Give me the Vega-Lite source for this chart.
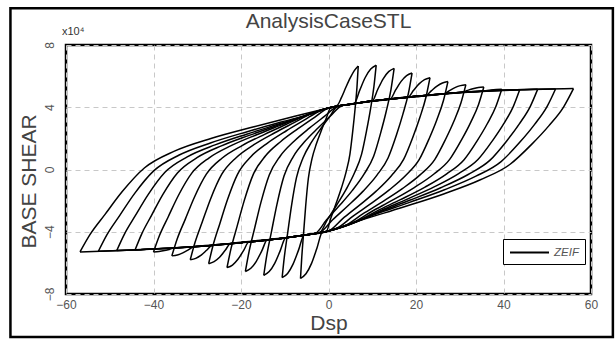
{
"$schema": "https://vega.github.io/schema/vega-lite/v6.json",
"width": 525, "height": 249,
"autosize": "none",
"padding": {"left": 66, "top": 45, "right": 25, "bottom": 46},
"background": "white",
"config": {"view": {"stroke": "#000", "strokeWidth": 2.5}, "font": "Liberation Sans"},
"layer": [
{"data": {"values": [
{"s":"i0","x":0,"y":3.95},{"s":"i0","x":2,"y":4.12},{"s":"i0","x":3,"y":4.65},{"s":"i0","x":4,"y":5.3},{"s":"i0","x":5,"y":5.9},{"s":"i0","x":5.9,"y":6.35},{"s":"i0","x":6.8,"y":6.65},
{"s":"u1","x":6.8,"y":6.65},{"s":"u1","x":6.51,"y":5.29},{"s":"u1","x":6.07,"y":3.89},{"s":"u1","x":5.56,"y":2.51},{"s":"u1","x":4.9,"y":0.99},{"s":"u1","x":4.03,"y":-0.15},{"s":"u1","x":2.93,"y":-1.21},{"s":"u1","x":1.69,"y":-2.22},{"s":"u1","x":0.52,"y":-3.13},{"s":"u1","x":-0.5,"y":-3.975},{"s":"u1","x":-1.4,"y":-4.02},{"s":"u1","x":-2.65,"y":-5.06},{"s":"u1","x":-3.9,"y":-6.05},{"s":"u1","x":-5.15,"y":-6.7},{"s":"u1","x":-6.4,"y":-7.0},
{"s":"r1","x":-6.4,"y":-7.0},{"s":"r1","x":-6.12,"y":-5.68},{"s":"r1","x":-5.71,"y":-4.15},{"s":"r1","x":-5.23,"y":-2.39},{"s":"r1","x":-4.61,"y":-0.58},{"s":"r1","x":-3.78,"y":0.68},{"s":"r1","x":-2.74,"y":1.67},{"s":"r1","x":-1.57,"y":2.55},{"s":"r1","x":-0.47,"y":3.32},{"s":"r1","x":0.5,"y":3.975},{"s":"r1","x":3,"y":4.1},{"s":"r1","x":5.9,"y":4.24},{"s":"r1","x":7.15,"y":5.1},{"s":"r1","x":8.4,"y":5.91},{"s":"r1","x":9.65,"y":6.45},{"s":"r1","x":10.9,"y":6.7},
{"s":"u2","x":10.9,"y":6.7},{"s":"u2","x":10.38,"y":5.32},{"s":"u2","x":9.61,"y":3.9},{"s":"u2","x":8.71,"y":2.51},{"s":"u2","x":7.55,"y":0.97},{"s":"u2","x":6.0,"y":-0.18},{"s":"u2","x":4.06,"y":-1.26},{"s":"u2","x":1.87,"y":-2.28},{"s":"u2","x":-0.19,"y":-3.19},{"s":"u2","x":-2.0,"y":-4.05},{"s":"u2","x":-4,"y":-4.15},{"s":"u2","x":-5.6,"y":-4.22},{"s":"u2","x":-6.85,"y":-5.18},{"s":"u2","x":-8.1,"y":-6.08},{"s":"u2","x":-9.35,"y":-6.68},{"s":"u2","x":-10.6,"y":-6.95},
{"s":"r2","x":-10.6,"y":-6.95},{"s":"r2","x":-10.1,"y":-5.63},{"s":"r2","x":-9.34,"y":-4.09},{"s":"r2","x":-8.46,"y":-2.33},{"s":"r2","x":-7.32,"y":-0.52},{"s":"r2","x":-5.81,"y":0.75},{"s":"r2","x":-3.92,"y":1.74},{"s":"r2","x":-1.78,"y":2.62},{"s":"r2","x":0.24,"y":3.39},{"s":"r2","x":2.0,"y":4.05},{"s":"r2","x":5,"y":4.2},{"s":"r2","x":7.5,"y":4.3},{"s":"r2","x":10,"y":4.4},{"s":"r2","x":11.25,"y":5.14},{"s":"r2","x":12.5,"y":5.83},{"s":"r2","x":13.75,"y":6.29},{"s":"r2","x":15,"y":6.5},
{"s":"u3","x":15,"y":6.5},{"s":"u3","x":14.28,"y":5.14},{"s":"u3","x":13.2,"y":3.74},{"s":"u3","x":11.94,"y":2.37},{"s":"u3","x":10.32,"y":0.85},{"s":"u3","x":8.16,"y":-0.28},{"s":"u3","x":5.46,"y":-1.34},{"s":"u3","x":2.4,"y":-2.35},{"s":"u3","x":-0.48,"y":-3.25},{"s":"u3","x":-3,"y":-4.1},{"s":"u3","x":-5,"y":-4.2},{"s":"u3","x":-7.5,"y":-4.3},{"s":"u3","x":-9.8,"y":-4.39},{"s":"u3","x":-11.05,"y":-5.23},{"s":"u3","x":-12.3,"y":-6.03},{"s":"u3","x":-13.55,"y":-6.56},{"s":"u3","x":-14.8,"y":-6.8},
{"s":"r3","x":-14.8,"y":-6.8},{"s":"r3","x":-14.09,"y":-5.49},{"s":"r3","x":-13.02,"y":-3.97},{"s":"r3","x":-11.77,"y":-2.22},{"s":"r3","x":-10.17,"y":-0.42},{"s":"r3","x":-8.04,"y":0.83},{"s":"r3","x":-5.37,"y":1.81},{"s":"r3","x":-2.34,"y":2.68},{"s":"r3","x":0.51,"y":3.45},{"s":"r3","x":3.0,"y":4.1},{"s":"r3","x":5,"y":4.2},{"s":"r3","x":10,"y":4.4},{"s":"r3","x":14.1,"y":4.52},{"s":"r3","x":15.35,"y":5.11},{"s":"r3","x":16.6,"y":5.66},{"s":"r3","x":17.85,"y":6.03},{"s":"r3","x":19.1,"y":6.2},
{"s":"u4","x":19.1,"y":6.2},{"s":"u4","x":18.26,"y":4.89},{"s":"u4","x":16.99,"y":3.54},{"s":"u4","x":15.51,"y":2.2},{"s":"u4","x":13.61,"y":0.74},{"s":"u4","x":11.08,"y":-0.36},{"s":"u4","x":7.92,"y":-1.39},{"s":"u4","x":4.33,"y":-2.36},{"s":"u4","x":0.95,"y":-3.23},{"s":"u4","x":-2,"y":-4.05},{"s":"u4","x":-5,"y":-4.2},{"s":"u4","x":-10,"y":-4.4},{"s":"u4","x":-14,"y":-4.52},{"s":"u4","x":-15.25,"y":-5.23},{"s":"u4","x":-16.5,"y":-5.9},{"s":"u4","x":-17.75,"y":-6.35},{"s":"u4","x":-19,"y":-6.55},
{"s":"r4","x":-19,"y":-6.55},{"s":"r4","x":-18.16,"y":-5.28},{"s":"r4","x":-16.9,"y":-3.79},{"s":"r4","x":-15.43,"y":-2.1},{"s":"r4","x":-13.54,"y":-0.35},{"s":"r4","x":-11.02,"y":0.87},{"s":"r4","x":-7.87,"y":1.82},{"s":"r4","x":-4.3,"y":2.67},{"s":"r4","x":-0.94,"y":3.41},{"s":"r4","x":2.0,"y":4.05},{"s":"r4","x":5,"y":4.2},{"s":"r4","x":10,"y":4.4},{"s":"r4","x":14,"y":4.52},{"s":"r4","x":18.2,"y":4.65},{"s":"r4","x":19.45,"y":5.09},{"s":"r4","x":20.7,"y":5.5},{"s":"r4","x":21.95,"y":5.77},{"s":"r4","x":23.2,"y":5.9},
{"s":"u5","x":23.2,"y":5.9},{"s":"u5","x":22.27,"y":4.64},{"s":"u5","x":20.88,"y":3.34},{"s":"u5","x":19.26,"y":2.06},{"s":"u5","x":17.17,"y":0.65},{"s":"u5","x":14.38,"y":-0.4},{"s":"u5","x":10.9,"y":-1.39},{"s":"u5","x":6.96,"y":-2.32},{"s":"u5","x":3.25,"y":-3.16},{"s":"u5","x":0,"y":-3.95},{"s":"u5","x":-5,"y":-4.2},{"s":"u5","x":-10,"y":-4.4},{"s":"u5","x":-14,"y":-4.52},{"s":"u5","x":-18.2,"y":-4.65},{"s":"u5","x":-19.45,"y":-5.23},{"s":"u5","x":-20.7,"y":-5.77},{"s":"u5","x":-21.95,"y":-6.14},{"s":"u5","x":-23.2,"y":-6.3},
{"s":"r5","x":-23.2,"y":-6.3},{"s":"r5","x":-22.27,"y":-5.07},{"s":"r5","x":-20.88,"y":-3.64},{"s":"r5","x":-19.26,"y":-2.0},{"s":"r5","x":-17.17,"y":-0.3},{"s":"r5","x":-14.38,"y":0.88},{"s":"r5","x":-10.9,"y":1.8},{"s":"r5","x":-6.96,"y":2.62},{"s":"r5","x":-3.25,"y":3.34},{"s":"r5","x":0,"y":3.95},{"s":"r5","x":5,"y":4.2},{"s":"r5","x":10,"y":4.4},{"s":"r5","x":16,"y":4.58},{"s":"r5","x":22.3,"y":4.76},{"s":"r5","x":23.55,"y":5.07},{"s":"r5","x":24.8,"y":5.36},{"s":"r5","x":26.05,"y":5.56},{"s":"r5","x":27.3,"y":5.65},
{"s":"u6","x":27.3,"y":5.65},{"s":"u6","x":26.29,"y":4.45},{"s":"u6","x":24.77,"y":3.2},{"s":"u6","x":23.0,"y":1.98},{"s":"u6","x":20.72,"y":0.63},{"s":"u6","x":17.69,"y":-0.37},{"s":"u6","x":13.89,"y":-1.31},{"s":"u6","x":9.59,"y":-2.21},{"s":"u6","x":5.54,"y":-3.01},{"s":"u6","x":2.0,"y":-3.76},{"s":"u6","x":0,"y":-3.95},{"s":"u6","x":-5,"y":-4.2},{"s":"u6","x":-10,"y":-4.4},{"s":"u6","x":-16,"y":-4.58},{"s":"u6","x":-22.4,"y":-4.76},{"s":"u6","x":-23.65,"y":-5.21},{"s":"u6","x":-24.9,"y":-5.64},{"s":"u6","x":-26.15,"y":-5.92},{"s":"u6","x":-27.4,"y":-6.05},
{"s":"r6","x":-27.4,"y":-6.05},{"s":"r6","x":-26.38,"y":-4.87},{"s":"r6","x":-24.86,"y":-3.5},{"s":"r6","x":-23.08,"y":-1.93},{"s":"r6","x":-20.8,"y":-0.31},{"s":"r6","x":-17.75,"y":0.82},{"s":"r6","x":-13.94,"y":1.7},{"s":"r6","x":-9.62,"y":2.49},{"s":"r6","x":-5.56,"y":3.17},{"s":"r6","x":-2.0,"y":3.76},{"s":"r6","x":0,"y":3.95},{"s":"r6","x":5,"y":4.2},{"s":"r6","x":10,"y":4.4},{"s":"r6","x":20,"y":4.7},{"s":"r6","x":26.4,"y":4.86},{"s":"r6","x":27.65,"y":5.07},{"s":"r6","x":28.9,"y":5.26},{"s":"r6","x":30.15,"y":5.39},{"s":"r6","x":31.4,"y":5.45},
{"s":"u7","x":31.4,"y":5.45},{"s":"u7","x":30.3,"y":4.3},{"s":"u7","x":28.66,"y":3.1},{"s":"u7","x":26.74,"y":1.93},{"s":"u7","x":24.28,"y":0.64},{"s":"u7","x":20.99,"y":-0.33},{"s":"u7","x":16.88,"y":-1.23},{"s":"u7","x":12.22,"y":-2.09},{"s":"u7","x":7.84,"y":-2.85},{"s":"u7","x":4.0,"y":-3.575},{"s":"u7","x":0,"y":-3.95},{"s":"u7","x":-5,"y":-4.2},{"s":"u7","x":-10,"y":-4.4},{"s":"u7","x":-20,"y":-4.7},{"s":"u7","x":-26.6,"y":-4.87},{"s":"u7","x":-27.85,"y":-5.19},{"s":"u7","x":-29.1,"y":-5.5},{"s":"u7","x":-30.35,"y":-5.71},{"s":"u7","x":-31.6,"y":-5.8},
{"s":"r7","x":-31.6,"y":-5.8},{"s":"r7","x":-30.5,"y":-4.68},{"s":"r7","x":-28.84,"y":-3.36},{"s":"r7","x":-26.91,"y":-1.86},{"s":"r7","x":-24.42,"y":-0.32},{"s":"r7","x":-21.11,"y":0.76},{"s":"r7","x":-16.97,"y":1.61},{"s":"r7","x":-12.28,"y":2.36},{"s":"r7","x":-7.86,"y":3.01},{"s":"r7","x":-4.0,"y":3.575},{"s":"r7","x":0,"y":3.95},{"s":"r7","x":5,"y":4.2},{"s":"r7","x":10,"y":4.4},{"s":"r7","x":20,"y":4.7},{"s":"r7","x":25,"y":4.825},{"s":"r7","x":30.5,"y":4.96},{"s":"r7","x":31.75,"y":5.08},{"s":"r7","x":33,"y":5.19},{"s":"r7","x":34.25,"y":5.27},{"s":"r7","x":35.5,"y":5.3},
{"s":"u8","x":35.5,"y":5.3},{"s":"u8","x":34.3,"y":4.18},{"s":"u8","x":32.5,"y":3.03},{"s":"u8","x":30.4,"y":1.9},{"s":"u8","x":27.7,"y":0.65},{"s":"u8","x":24.1,"y":-0.29},{"s":"u8","x":19.6,"y":-1.16},{"s":"u8","x":14.5,"y":-1.99},{"s":"u8","x":9.7,"y":-2.73},{"s":"u8","x":5.5,"y":-3.43},{"s":"u8","x":0,"y":-3.95},{"s":"u8","x":-5,"y":-4.2},{"s":"u8","x":-10,"y":-4.4},{"s":"u8","x":-20,"y":-4.7},{"s":"u8","x":-25,"y":-4.825},{"s":"u8","x":-30.8,"y":-4.96},{"s":"u8","x":-32.05,"y":-5.17},{"s":"u8","x":-33.3,"y":-5.36},{"s":"u8","x":-34.55,"y":-5.49},{"s":"u8","x":-35.8,"y":-5.55},
{"s":"r8","x":-35.8,"y":-5.55},{"s":"r8","x":-34.59,"y":-4.47},{"s":"r8","x":-32.77,"y":-3.22},{"s":"r8","x":-30.65,"y":-1.78},{"s":"r8","x":-27.92,"y":-0.3},{"s":"r8","x":-24.29,"y":0.74},{"s":"r8","x":-19.74,"y":1.54},{"s":"r8","x":-14.59,"y":2.26},{"s":"r8","x":-9.74,"y":2.89},{"s":"r8","x":-5.5,"y":3.43},{"s":"r8","x":0,"y":3.95},{"s":"r8","x":5,"y":4.2},{"s":"r8","x":10,"y":4.4},{"s":"r8","x":20,"y":4.7},{"s":"r8","x":30,"y":4.95},{"s":"r8","x":34.6,"y":5.01},{"s":"r8","x":35.85,"y":5.06},{"s":"r8","x":37.1,"y":5.11},{"s":"r8","x":38.35,"y":5.14},{"s":"r8","x":39.6,"y":5.15},
{"s":"u9","x":39.6,"y":5.15},{"s":"u9","x":38.28,"y":4.06},{"s":"u9","x":36.29,"y":2.94},{"s":"u9","x":33.97,"y":1.84},{"s":"u9","x":30.99,"y":0.63},{"s":"u9","x":27.02,"y":-0.28},{"s":"u9","x":22.06,"y":-1.13},{"s":"u9","x":16.43,"y":-1.94},{"s":"u9","x":11.13,"y":-2.66},{"s":"u9","x":6.5,"y":-3.34},{"s":"u9","x":0,"y":-3.95},{"s":"u9","x":-5,"y":-4.2},{"s":"u9","x":-10,"y":-4.4},{"s":"u9","x":-20,"y":-4.7},{"s":"u9","x":-30,"y":-4.95},{"s":"u9","x":-35,"y":-5.03},{"s":"u9","x":-36.25,"y":-5.12},{"s":"u9","x":-37.5,"y":-5.21},{"s":"u9","x":-38.75,"y":-5.27},{"s":"u9","x":-40,"y":-5.3},
{"s":"r9","x":-40,"y":-5.3},{"s":"r9","x":-38.66,"y":-4.26},{"s":"r9","x":-36.65,"y":-3.05},{"s":"r9","x":-34.31,"y":-1.67},{"s":"r9","x":-31.29,"y":-0.25},{"s":"r9","x":-27.27,"y":0.75},{"s":"r9","x":-22.25,"y":1.53},{"s":"r9","x":-16.55,"y":2.22},{"s":"r9","x":-11.19,"y":2.82},{"s":"r9","x":-6.5,"y":3.34},{"s":"r9","x":0,"y":3.95},{"s":"r9","x":5,"y":4.2},{"s":"r9","x":10,"y":4.4},{"s":"r9","x":20,"y":4.7},{"s":"r9","x":30,"y":4.95},{"s":"r9","x":37,"y":5.04},{"s":"r9","x":43.7,"y":5.12},
{"s":"u10","x":43.7,"y":5.12},{"s":"u10","x":42.23,"y":4.04},{"s":"u10","x":40.03,"y":2.93},{"s":"u10","x":37.46,"y":1.84},{"s":"u10","x":34.16,"y":0.64},{"s":"u10","x":29.75,"y":-0.26},{"s":"u10","x":24.25,"y":-1.1},{"s":"u10","x":18.01,"y":-1.9},{"s":"u10","x":12.14,"y":-2.62},{"s":"u10","x":7.0,"y":-3.29},{"s":"u10","x":0,"y":-3.95},{"s":"u10","x":-5,"y":-4.2},{"s":"u10","x":-10,"y":-4.4},{"s":"u10","x":-20,"y":-4.7},{"s":"u10","x":-30,"y":-4.95},{"s":"u10","x":-37,"y":-5.06},{"s":"u10","x":-44.2,"y":-5.16},
{"s":"r10","x":-44.2,"y":-5.16},{"s":"r10","x":-42.71,"y":-4.15},{"s":"r10","x":-40.48,"y":-2.96},{"s":"r10","x":-37.88,"y":-1.61},{"s":"r10","x":-34.53,"y":-0.22},{"s":"r10","x":-30.06,"y":0.76},{"s":"r10","x":-24.48,"y":1.52},{"s":"r10","x":-18.16,"y":2.19},{"s":"r10","x":-12.21,"y":2.78},{"s":"r10","x":-7.0,"y":3.29},{"s":"r10","x":0,"y":3.95},{"s":"r10","x":5,"y":4.2},{"s":"r10","x":10,"y":4.4},{"s":"r10","x":20,"y":4.7},{"s":"r10","x":30,"y":4.95},{"s":"r10","x":43,"y":5.12},{"s":"r10","x":47.8,"y":5.15},
{"s":"u11","x":47.8,"y":5.15},{"s":"u11","x":46.13,"y":4.06},{"s":"u11","x":43.62,"y":2.93},{"s":"u11","x":40.69,"y":1.82},{"s":"u11","x":36.93,"y":0.6},{"s":"u11","x":31.92,"y":-0.32},{"s":"u11","x":25.65,"y":-1.17},{"s":"u11","x":18.54,"y":-1.98},{"s":"u11","x":11.85,"y":-2.71},{"s":"u11","x":6.0,"y":-3.39},{"s":"u11","x":0,"y":-3.95},{"s":"u11","x":-5,"y":-4.2},{"s":"u11","x":-10,"y":-4.4},{"s":"u11","x":-20,"y":-4.7},{"s":"u11","x":-30,"y":-4.95},{"s":"u11","x":-43,"y":-5.15},{"s":"u11","x":-48.4,"y":-5.21},
{"s":"r11","x":-48.4,"y":-5.21},{"s":"r11","x":-46.7,"y":-4.18},{"s":"r11","x":-44.16,"y":-2.97},{"s":"r11","x":-41.19,"y":-1.6},{"s":"r11","x":-37.38,"y":-0.18},{"s":"r11","x":-32.29,"y":0.81},{"s":"r11","x":-25.93,"y":1.58},{"s":"r11","x":-18.72,"y":2.27},{"s":"r11","x":-11.94,"y":2.87},{"s":"r11","x":-6.0,"y":3.39},{"s":"r11","x":0,"y":3.95},{"s":"r11","x":5,"y":4.2},{"s":"r11","x":10,"y":4.4},{"s":"r11","x":20,"y":4.7},{"s":"r11","x":30,"y":4.95},{"s":"r11","x":43,"y":5.12},{"s":"r11","x":51.9,"y":5.175},
{"s":"u12","x":51.9,"y":5.175},{"s":"u12","x":49.98,"y":4.06},{"s":"u12","x":47.11,"y":2.9},{"s":"u12","x":43.76,"y":1.76},{"s":"u12","x":39.45,"y":0.51},{"s":"u12","x":33.7,"y":-0.43},{"s":"u12","x":26.51,"y":-1.3},{"s":"u12","x":18.37,"y":-2.13},{"s":"u12","x":10.71,"y":-2.88},{"s":"u12","x":4.0,"y":-3.575},{"s":"u12","x":0,"y":-3.95},{"s":"u12","x":-5,"y":-4.2},{"s":"u12","x":-10,"y":-4.4},{"s":"u12","x":-20,"y":-4.7},{"s":"u12","x":-30,"y":-4.95},{"s":"u12","x":-43,"y":-5.15},{"s":"u12","x":-52.6,"y":-5.255},
{"s":"r12","x":-52.6,"y":-5.255},{"s":"r12","x":-50.66,"y":-4.2},{"s":"r12","x":-47.74,"y":-2.96},{"s":"r12","x":-44.34,"y":-1.55},{"s":"r12","x":-39.96,"y":-0.09},{"s":"r12","x":-34.13,"y":0.93},{"s":"r12","x":-26.84,"y":1.72},{"s":"r12","x":-18.58,"y":2.43},{"s":"r12","x":-10.8,"y":3.05},{"s":"r12","x":-4.0,"y":3.575},{"s":"r12","x":0,"y":3.95},{"s":"r12","x":5,"y":4.2},{"s":"r12","x":10,"y":4.4},{"s":"r12","x":20,"y":4.7},{"s":"r12","x":30,"y":4.95},{"s":"r12","x":43,"y":5.12},{"s":"r12","x":56,"y":5.2},
{"s":"u13","x":56,"y":5.2},{"s":"u13","x":53.76,"y":4.03},{"s":"u13","x":50.4,"y":2.82},{"s":"u13","x":46.48,"y":1.63},{"s":"u13","x":41.44,"y":0.32},{"s":"u13","x":34.72,"y":-0.66},{"s":"u13","x":26.32,"y":-1.57},{"s":"u13","x":16.8,"y":-2.44},{"s":"u13","x":7.84,"y":-3.22},{"s":"u13","x":0,"y":-3.95},{"s":"u13","x":-5,"y":-4.2},{"s":"u13","x":-10,"y":-4.4},{"s":"u13","x":-20,"y":-4.7},{"s":"u13","x":-30,"y":-4.95},{"s":"u13","x":-43,"y":-5.15},{"s":"u13","x":-56.8,"y":-5.3},
{"s":"r13","x":-56.8,"y":-5.3},{"s":"r13","x":-54.53,"y":-4.19},{"s":"r13","x":-51.12,"y":-2.9},{"s":"r13","x":-47.14,"y":-1.42},{"s":"r13","x":-42.03,"y":0.11},{"s":"r13","x":-35.22,"y":1.18},{"s":"r13","x":-26.7,"y":2.01},{"s":"r13","x":-17.04,"y":2.75},{"s":"r13","x":-7.95,"y":3.4},{"s":"r13","x":0,"y":3.95}
]},
"mark": {"type": "line", "interpolate": "monotone", "strokeWidth": 1.5},
"encoding": {
"x": {"field": "x", "type": "quantitative", "scale": {"domain": [-60, 60], "nice": false, "zero": false}, "title": "Dsp",
"axis": {"values": [-60,-40,-20,0,20,40,60], "labelFontSize": 12, "labelColor": "#555", "labelPadding": 5, "ticks": false, "domain": false, "gridDash": [5,4], "gridColor": "#c8c8c8", "titleFontSize": 21, "titleFontWeight": "normal", "titleColor": "#444", "titlePadding": 2, "labelFlush": false}},
"y": {"field": "y", "type": "quantitative", "scale": {"domain": [-8, 8], "nice": false, "zero": false}, "title": "BASE SHEAR",
"axis": {"values": [-8,-6,-4,-2,0,2,4,6,8], "labelAngle": -90, "labelFontSize": 12, "labelColor": "#555", "labelPadding": 10, "ticks": false, "domain": false, "gridDash": [5,4], "gridColor": "#c8c8c8", "titleFontSize": 21, "titleFontWeight": "normal", "titleColor": "#444", "titlePadding": 4, "titleY": 136, "labelFlush": false}},
"detail": {"field": "s"},
"color": {"datum": "ZEIF", "scale": {"range": ["#000"]},
"legend": {"title": null, "orient": "none", "legendX": 437, "legendY": 194, "strokeColor": "#000", "fillColor": "white", "padding": 6, "symbolType": "M-1,0H5", "symbolSize": 169, "symbolStrokeWidth": 2, "labelFontSize": 11.5, "labelColor": "#555", "labelFontStyle": "italic", "labelOffset": 30, "labelExpr": "datum.label + '\u00a0\u00a0\u00a0'"}}
}},
{"data": {"values": [{}]},
"mark": {"type": "text", "align": "center", "baseline": "middle", "fontSize": 21, "color": "#444", "dy": -23},
"encoding": {"x": {"datum": 0}, "y": {"datum": 8}, "text": {"value": "AnalysisCaseSTL"}}},
{"data": {"values": [{}]},
"mark": {"type": "text", "align": "left", "baseline": "bottom", "fontSize": 11, "color": "#333", "dx": -4, "dy": -8},
"encoding": {"x": {"datum": -60}, "y": {"datum": 8}, "text": {"value": "x10⁴"}}},
{"data": {"values": [{}]},
"mark": {"type": "rect", "fillOpacity": 0, "stroke": "#000", "strokeWidth": 2.5, "clip": false},
"encoding": {"x": {"datum": -72.7}, "x2": {"datum": 65}, "y": {"datum": 10.36}, "y2": {"datum": -10.76}}}
]
}
